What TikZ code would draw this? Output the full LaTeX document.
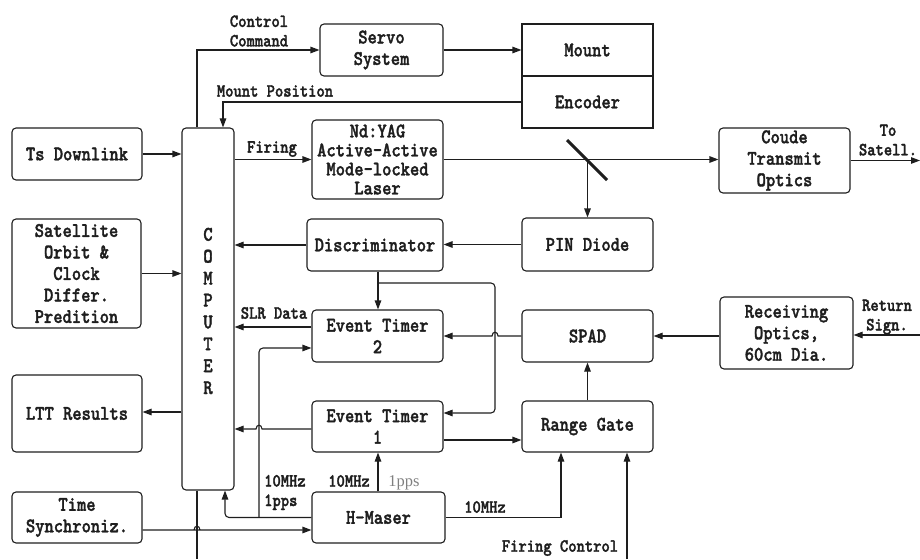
\documentclass[tikz,border=0pt]{standalone}
\usepackage{fontspec}
\usetikzlibrary{arrows.meta}
\newfontfamily\dfont[FakeStretch=0.85,FakeBold=1.6]{lmmonolt10-bold.otf}
\newfontfamily\gfont{Liberation Serif}
\definecolor{ink}{HTML}{1E1E1E}
\tikzset{
  box/.style={draw=ink, line width=1.1pt, rounded corners=4pt, inner sep=0pt, align=center,
    font={\dfont\fontsize{20.8}{21.5}\selectfont}, text=ink},
  sqbox/.style={box, rounded corners=0pt},
  lbl/.style={inner sep=0pt, align=center, font={\dfont\fontsize{18.6}{19.5}\selectfont}, text=ink},
  wire/.style={draw=ink, line width=1.1pt},
  arr/.style={wire, -{Triangle[length=9pt,width=6.5pt]}},
}
\begin{document}
\begin{tikzpicture}[x=1pt,y=-1pt]
\useasboundingbox (0,0) rectangle (920,559);
% nodes
\node[box, minimum width=123pt, minimum height=52pt] (servo) at (381.5,50) {Servo\\System};
\node[sqbox, minimum width=131pt, minimum height=52pt] (mount) at (587.5,50) {Mount};
\node[sqbox, minimum width=131pt, minimum height=52pt] (enc) at (587.5,102) {Encoder};
\node[box, minimum width=130pt, minimum height=52pt] (ts) at (77,154) {Ts Downlink};
\node[box, minimum width=52pt, minimum height=362pt] (comp) at (208,309) {};
\node[lbl, font={\dfont\fontsize{20.8}{21.9}\selectfont}] (ctext) at (208,311) {C\\O\\M\\P\\U\\T\\E\\R};
\node[box, minimum width=131pt, minimum height=79pt, font={\dfont\fontsize{20.8}{19}\selectfont}] (laser) at (377.5,159.5) {Nd:YAG\\Active-Active\\Mode-locked\\Laser};
\node[box, minimum width=131pt, minimum height=65pt] (coude) at (784.5,160.5) {Coude\\Transmit\\Optics};
\node[box, minimum width=129pt, minimum height=109pt] (orbit) at (76.5,273.5) {Satellite\\Orbit \&\\Clock\\Differ.\\Predition};
\node[box, minimum width=136pt, minimum height=52pt] (disc) at (375,245) {Discriminator};
\node[box, minimum width=131pt, minimum height=53pt] (pin) at (587.5,244.5) {PIN Diode};
\node[box, minimum width=131pt, minimum height=52pt] (et2) at (377.5,336) {Event Timer\\2};
\node[box, minimum width=131pt, minimum height=52pt] (spad) at (587.5,336) {SPAD};
\node[box, minimum width=133pt, minimum height=72pt] (recv) at (786.5,333) {Receiving\\Optics,\\60cm Dia.};
\node[box, minimum width=130pt, minimum height=77pt] (ltt) at (77,413.5) {LTT Results};
\node[box, minimum width=131pt, minimum height=51pt] (et1) at (377.5,426.5) {Event Timer\\1};
\node[box, minimum width=131pt, minimum height=51pt] (rg) at (587.5,426.5) {Range Gate};
\node[box, minimum width=130pt, minimum height=51pt] (tsync) at (77,517.5) {Time\\Synchroniz.};
\node[box, minimum width=133pt, minimum height=51pt] (hm) at (378.5,517.5) {H-Maser};
% labels
\node[lbl] (lcc) at (259,31) {Control\\Command};
\node[lbl] (lmp) at (275,91) {Mount Position};
\node[lbl] (lfir) at (272,149) {Firing};
\node[lbl] (lsat) at (888,140) {To\\Satell.};
\node[lbl] (lslr) at (274,313) {SLR Data};
\node[lbl] (lret) at (887,317) {Return\\Sign.};
\node[lbl, align=left, anchor=west] (l10a) at (264,492.5) {10MHz\\1pps};
\node[lbl] (l10b) at (349,481) {10MHz};
\node[inner sep=0pt, font={\gfont\fontsize{16.5}{18}\selectfont}, text=gray] (lpps) at (404,483) {1pps};
\node[lbl] (l10c) at (485,507) {10MHz};
\node[lbl] (lfc) at (560,548) {Firing Control};
% coordinates
\coordinate (mir) at (587.5,159.5);
\coordinate (tosat) at (920,160.5);
\coordinate (fromsat) at (920,335);
\coordinate (j1) at (378,283);
\coordinate (j2) at (259,517.5);
\coordinate (bot1) at (197,559);
\coordinate (bot2) at (627,559);
% connectors
\draw[arr] (comp.north -| 197,0) |- (servo.west);
\draw[arr] (servo.east) -- (mount.west);
\draw[arr] (enc.west) -| (comp.north -| 223,0);
\draw[arr] (ts.east) -- (ts.east -| comp.west);
\draw[arr] (comp.east |- laser.west) -- (laser.west);
\draw[arr] (laser.east) -- (laser.east -| coude.west);
\draw[line width=3pt, draw=ink] (567,140) -- (607,180);
\draw[arr] (mir) -- (pin.north);
\draw[arr] (coude.east) -- (tosat);
\draw[arr] (pin.west) -- (pin.west -| disc.east);
\draw[arr] (disc.west) -- (disc.west -| comp.east);
\draw[arr] (orbit.east) -- (orbit.east -| comp.west);
\draw[arr] (disc.south -| j1) -- (et2.north -| j1);
\draw[arr, rounded corners=4pt] (j1) -- (495,283) -- (495,413) -- (et1.east |- 0,413);
\draw[arr] (spad.west) -- (498,336) .. controls (498,331) and (492,331) .. (492,336) -- (et2.east);
\draw[arr] (et2.west |- 0,327) -- (comp.east |- 0,327);
\draw[arr, rounded corners=4pt] (hm.west) -- (225,517.5) -- (comp.south -| 225,0);
\draw[arr, rounded corners=4pt] (j2) -- (259,348) -- (et2.west |- 0,348);
\draw[arr] (et1.west |- 0,429) -- (262,429) .. controls (262,424) and (256,424) .. (256,429) -- (comp.east |- 0,429);
\draw[arr] (comp.west |- 0,412) -- (ltt.east |- 0,412);
\draw[arr] (tsync.east |- 0,530) -- (200,530) .. controls (200,525) and (194,525) .. (194,530) -- (hm.west |- 0,530);
\draw[wire] (comp.south -| bot1) -- (bot1);
\draw[arr] (hm.north -| 378,0) -- (et1.south -| 378,0);
\draw[arr] (hm.east) -| (rg.south -| 561,0);
\draw[arr] (bot2) -- (rg.south -| bot2);
\draw[arr] (et1.east |- 0,440) -- (rg.west |- 0,440);
\draw[arr] (rg.north) -- (spad.south);
\draw[arr] (recv.west |- 0,336) -- (spad.east);
\draw[arr] (fromsat) -- (recv.east |- fromsat);
\end{tikzpicture}
\end{document}
